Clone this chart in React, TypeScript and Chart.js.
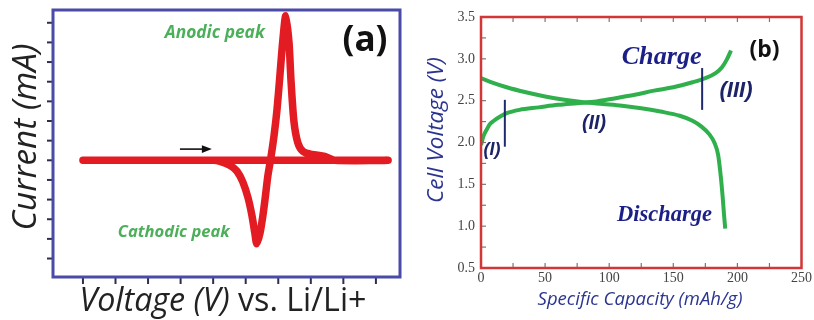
import React, { useEffect, useRef } from "react";
import { Chart, registerables } from "chart.js";

Chart.register(...registerables);

// ---------- Panel (a): cyclic voltammogram (arbitrary units) ----------
const cvVoltage = [1.0, 5.0, 5.21, 5.51, 5.73, 5.91, 6.07, 6.19, 6.28, 6.34, 6.44, 6.53, 6.6, 6.68, 6.77, 6.87, 6.96, 7.05, 7.14, 7.23, 7.33, 7.39, 7.48, 7.6, 7.76, 8.03, 8.43, 8.74, 10.34, 1.0];
const cvCurrent = [6.0, 6.0, 5.95, 5.75, 5.45, 4.9, 4.1, 3.2, 2.3, 1.75, 2.3, 3.2, 4.1, 5.2, 6.1, 7.25, 8.55, 10.3, 12.1, 13.35, 12.0, 10.1, 8.0, 6.9, 6.45, 6.3, 6.2, 6.0, 6.0, 6.0];
const cvXTicks = [1, 2, 3, 4, 5, 6, 7, 8, 9, 10];
const cvYTicks = [1, 2, 3, 4, 5, 6, 7, 8, 9, 10, 11, 12, 13];
const cvArrowX = [3.98, 4.96];
const cvArrowY = 6.57;
const cvLabels = ["Anodic peak", "Cathodic peak"];
const cvLabelX = [5.05, 3.79];
const cvLabelY = [12.48, 2.34];

// ---------- Panel (b): charge / discharge ----------
const chargeCapacity = [0, 2, 5, 7, 10, 15, 20, 30, 45, 60, 75, 90, 105, 120, 135, 150, 165, 175, 183, 188, 192, 195];
const chargeVoltage = [1.97, 2.08, 2.17, 2.22, 2.26, 2.31, 2.35, 2.39, 2.42, 2.45, 2.47, 2.49, 2.53, 2.57, 2.62, 2.66, 2.72, 2.77, 2.83, 2.9, 3.0, 3.1];
const dischargeCapacity = [0, 10, 20, 35, 50, 65, 80, 95, 110, 125, 140, 155, 165, 172, 178, 182, 185, 187, 188.5, 189.5, 190.5];
const dischargeVoltage = [2.77, 2.71, 2.66, 2.6, 2.55, 2.51, 2.48, 2.46, 2.44, 2.41, 2.37, 2.32, 2.26, 2.19, 2.1, 2.0, 1.85, 1.6, 1.35, 1.15, 0.97];
const capacityTicks = [0, 50, 100, 150, 200, 250];
const voltageTicks = [0.5, 1.0, 1.5, 2.0, 2.5, 3.0, 3.5];
const capacityMinorTicks = [25, 50, 75, 100, 125, 150, 175, 200, 225];
const voltageMinorTicks = [0.75, 1.0, 1.25, 1.5, 1.75, 2.0, 2.25, 2.5, 2.75, 3.0, 3.25];
const regionLabels = ["(I)", "(II)", "(III)"];
const regionLabelX = [8.5, 88.2, 198.9];
const regionLabelY = [1.91, 2.23, 2.62];
const regionMarkerX = [18.6, 172.5];
const regionMarkerLow = [1.95, 2.39];
const regionMarkerHigh = [2.51, 2.89];
const curveLabels = ["Charge", "Discharge"];
const curveLabelX = [140.9, 143.2];
const curveLabelY = [3.02, 1.13];

function fitFont(ctx: CanvasRenderingContext2D, text: string, style: string, family: string, width: number) {
  ctx.font = `${style} 100px ${family}`;
  const w = ctx.measureText(text).width;
  const size = (100 * width) / w;
  ctx.font = `${style} ${size}px ${family}`;
  return size;
}

function seg(ctx: CanvasRenderingContext2D, x1: number, y1: number, x2: number, y2: number) {
  ctx.beginPath();
  ctx.moveTo(x1, y1);
  ctx.lineTo(x2, y2);
  ctx.stroke();
}

const cvDecor = {
  id: "cvDecor",
  afterDatasetsDraw(chart: any) {
    const { ctx, chartArea: a, scales } = chart;
    const x = scales.x;
    const y = scales.y;
    ctx.save();
    // outer tick marks
    ctx.strokeStyle = "#2e2e50";
    ctx.lineWidth = 2;
    for (const v of cvYTicks) {
      const py = y.getPixelForValue(v);
      seg(ctx, a.left - 6, py, a.left - 1, py);
    }
    for (const v of cvXTicks) {
      const px = x.getPixelForValue(v);
      seg(ctx, px, a.bottom + 1, px, a.bottom + 7);
    }
    // frame
    ctx.strokeStyle = "#4a4aa8";
    ctx.lineWidth = 3;
    ctx.strokeRect(a.left, a.top, a.right - a.left, a.bottom - a.top);
    // arrow
    const ax0 = x.getPixelForValue(cvArrowX[0]);
    const ax1 = x.getPixelForValue(cvArrowX[1]);
    const ay = y.getPixelForValue(cvArrowY);
    ctx.strokeStyle = "#111";
    ctx.fillStyle = "#111";
    ctx.lineWidth = 1.6;
    seg(ctx, ax0, ay, ax1 - 6, ay);
    ctx.beginPath();
    ctx.moveTo(ax1, ay);
    ctx.lineTo(ax1 - 10, ay - 3.8);
    ctx.lineTo(ax1 - 10, ay + 3.8);
    ctx.closePath();
    ctx.fill();
    // in-plot labels
    ctx.textAlign = "center";
    ctx.textBaseline = "middle";
    ctx.fillStyle = "#4caf5a";
    const labelW = [100, 112];
    cvLabels.forEach((t, i) => {
      fitFont(ctx, t, "italic bold", "'Open Sans'", labelW[i]);
      ctx.fillText(t, x.getPixelForValue(cvLabelX[i]), y.getPixelForValue(cvLabelY[i]));
    });
    ctx.fillStyle = "#111";
    fitFont(ctx, "(a)", "bold", "'Open Sans'", 45);
    ctx.fillText("(a)", a.right - 35, a.top + 31);
    // axis titles
    ctx.fillStyle = "#222";
    ctx.save();
    ctx.translate(27, 137);
    ctx.rotate(-Math.PI / 2);
    fitFont(ctx, "Current (mA)", "italic", "'Open Sans'", 187);
    ctx.fillText("Current (mA)", 0, 0);
    ctx.restore();
    const p1 = "Voltage (V)";
    const p2 = " vs. Li/Li+";
    ctx.font = "italic 100px 'Open Sans'";
    const w1 = ctx.measureText(p1).width;
    ctx.font = "100px 'Open Sans'";
    const w2 = ctx.measureText(p2).width;
    const size = (100 * 287) / (w1 + w2);
    const startX = 223 - 143.5;
    ctx.textAlign = "left";
    ctx.font = `italic ${size}px 'Open Sans'`;
    ctx.fillText(p1, startX, 302);
    ctx.font = `${size}px 'Open Sans'`;
    ctx.fillText(p2, startX + (w1 * size) / 100, 302);
    ctx.restore();
  },
};

const gcDecor = {
  id: "gcDecor",
  afterDatasetsDraw(chart: any) {
    const { ctx, chartArea: a, scales } = chart;
    const x = scales.x;
    const y = scales.y;
    ctx.save();
    // inner minor ticks
    ctx.strokeStyle = "#777";
    ctx.lineWidth = 1.2;
    for (const v of capacityMinorTicks) {
      const px = x.getPixelForValue(v);
      seg(ctx, px, a.bottom, px, a.bottom - 5);
      seg(ctx, px, a.top, px, a.top + 5);
    }
    for (const v of voltageMinorTicks) {
      const py = y.getPixelForValue(v);
      seg(ctx, a.left, py, a.left + 5, py);
    }
    // frame
    ctx.strokeStyle = "#d23636";
    ctx.lineWidth = 2.5;
    ctx.strokeRect(a.left, a.top, a.right - a.left, a.bottom - a.top);
    // region markers
    ctx.strokeStyle = "#1f2a6e";
    ctx.lineWidth = 2;
    regionMarkerX.forEach((v, i) => {
      const px = x.getPixelForValue(v);
      seg(ctx, px, y.getPixelForValue(regionMarkerLow[i]), px, y.getPixelForValue(regionMarkerHigh[i]));
    });
    ctx.textAlign = "center";
    ctx.textBaseline = "middle";
    ctx.fillStyle = "#1c2366";
    const regW = [17, 24, 33];
    regionLabels.forEach((t, i) => {
      fitFont(ctx, t, "italic bold", "'Liberation Sans'", regW[i]);
      ctx.fillText(t, x.getPixelForValue(regionLabelX[i]), y.getPixelForValue(regionLabelY[i]));
    });
    ctx.fillStyle = "#1b1f86";
    const curveW = [80, 95];
    curveLabels.forEach((t, i) => {
      fitFont(ctx, t, "italic bold", "'Liberation Serif'", curveW[i]);
      ctx.fillText(t, x.getPixelForValue(curveLabelX[i]), y.getPixelForValue(curveLabelY[i]));
    });
    ctx.fillStyle = "#111";
    fitFont(ctx, "(b)", "bold", "'Open Sans'", 30);
    ctx.fillText("(b)", a.right - 37, a.top + 33);
    // axis titles
    ctx.fillStyle = "#2b3590";
    ctx.save();
    ctx.translate(32, 130);
    ctx.rotate(-Math.PI / 2);
    fitFont(ctx, "Cell Voltage (V)", "italic", "'Open Sans'", 146);
    ctx.fillText("Cell Voltage (V)", 0, 0);
    ctx.restore();
    fitFont(ctx, "Specific Capacity (mAh/g)", "italic", "'Open Sans'", 205);
    ctx.fillText("Specific Capacity (mAh/g)", 235, 300);
    ctx.restore();
  },
};

function buildA(): any {
  return {
    type: "scatter",
    data: {
      datasets: [
        {
          data: cvVoltage.map((v, i) => ({ x: v, y: cvCurrent[i] })),
          showLine: true,
          borderColor: "#e31b23",
          borderWidth: 7.5,
          pointRadius: 0,
          tension: 0.25,
          borderCapStyle: "round",
          borderJoinStyle: "round",
          clip: false,
        },
      ],
    },
    options: {
      responsive: false,
      animation: false,
      devicePixelRatio: 1,
      layout: { padding: { top: 10, right: 5, left: 0, bottom: 0 } },
      plugins: { legend: { display: false }, tooltip: { enabled: false } },
      scales: {
        x: {
          type: "linear",
          min: 0.08,
          max: 10.74,
          ticks: { display: false },
          grid: { display: false },
          border: { display: false },
          afterFit: (s: any) => {
            s.height = 43;
          },
        },
        y: {
          type: "linear",
          min: 0.06,
          max: 13.65,
          ticks: { display: false },
          grid: { display: false },
          border: { display: false },
          afterFit: (s: any) => {
            s.width = 53;
          },
        },
      },
    },
    plugins: [cvDecor],
  };
}

function buildB(): any {
  const common = {
    showLine: true,
    borderColor: "#30b04c",
    borderWidth: 4,
    pointRadius: 0,
    cubicInterpolationMode: "monotone",
  };
  return {
    type: "scatter",
    data: {
      datasets: [
        { ...common, data: chargeCapacity.map((v, i) => ({ x: v, y: chargeVoltage[i] })) },
        { ...common, data: dischargeCapacity.map((v, i) => ({ x: v, y: dischargeVoltage[i] })) },
      ],
    },
    options: {
      responsive: false,
      animation: false,
      devicePixelRatio: 1,
      layout: { padding: { top: 17, right: 10, left: 0, bottom: 0 } },
      plugins: { legend: { display: false }, tooltip: { enabled: false } },
      scales: {
        x: {
          type: "linear",
          min: 0,
          max: 250,
          afterBuildTicks: (s: any) => {
            s.ticks = capacityTicks.map((v) => ({ value: v }));
          },
          ticks: {
            color: "#444",
            padding: 2,
            maxRotation: 0,
            autoSkip: false,
            font: { family: "'Liberation Serif'", size: 14 },
            callback: (v: any) => String(v),
          },
          grid: { display: false, drawTicks: false, tickLength: 0 },
          border: { display: false },
          afterFit: (s: any) => {
            s.height = 52;
          },
        },
        y: {
          type: "linear",
          min: 0.5,
          max: 3.5,
          afterBuildTicks: (s: any) => {
            s.ticks = voltageTicks.map((v) => ({ value: v }));
          },
          ticks: {
            color: "#444",
            padding: 6,
            autoSkip: false,
            font: { family: "'Liberation Serif'", size: 14 },
            callback: (v: any) => Number(v).toFixed(1),
          },
          grid: { display: false, drawTicks: false, tickLength: 0 },
          border: { display: false },
          afterFit: (s: any) => {
            s.width = 76;
          },
        },
      },
    },
    plugins: [gcDecor],
  };
}

export default function App() {
  const aRef = useRef<HTMLCanvasElement>(null);
  const bRef = useRef<HTMLCanvasElement>(null);
  useEffect(() => {
    const ca = new Chart(aRef.current as HTMLCanvasElement, buildA());
    const cb = new Chart(bRef.current as HTMLCanvasElement, buildB());
    return () => {
      ca.destroy();
      cb.destroy();
    };
  }, []);
  return (
    <div style={{ position: "fixed", left: 0, top: 0, width: 814, height: 320, background: "#fff", overflow: "hidden" }}>
      <canvas ref={aRef} width={405} height={320} style={{ position: "absolute", left: 0, top: 0, width: 405, height: 320 }} />
      <canvas ref={bRef} width={409} height={320} style={{ position: "absolute", left: 405, top: 0, width: 409, height: 320 }} />
    </div>
  );
}
